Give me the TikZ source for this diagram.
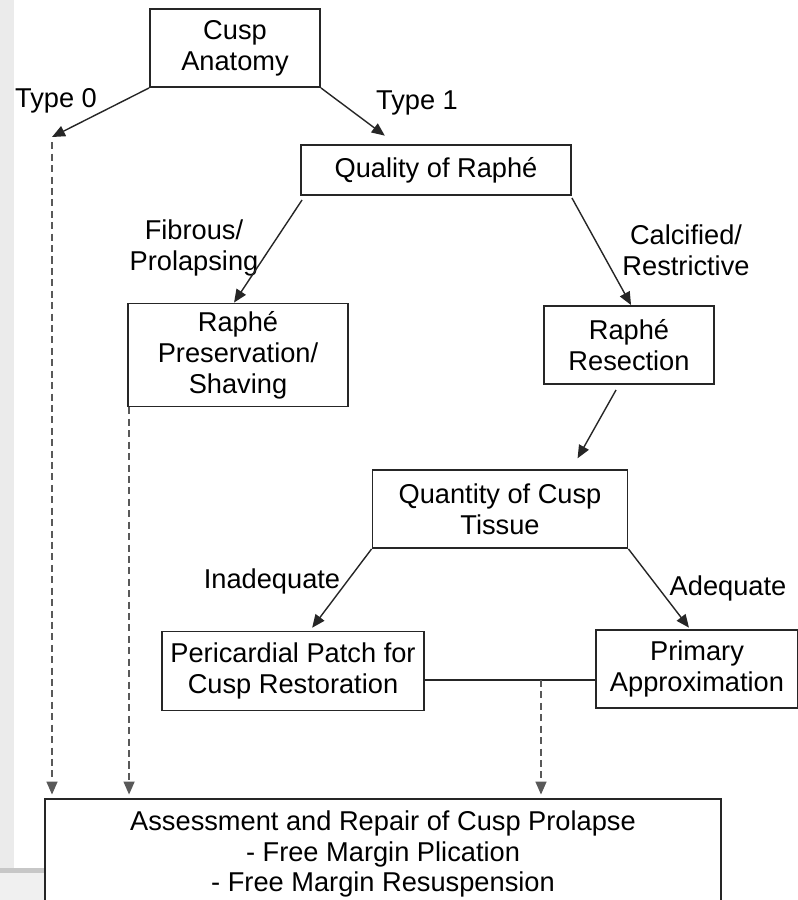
\documentclass[tikz,border=0pt]{standalone}
\usepackage{fontspec}
\setmainfont{Liberation Sans}
\usepackage{tikz}
\usepackage[dvipsnames]{xcolor}
\usetikzlibrary{arrows.meta,calc}
\colorlet{BoxLine}{black!85}
\colorlet{DashGray}{black!65}
\colorlet{EdgeGray}{black!8}

\tikzset{
    box/.style={draw=BoxLine, line width=1.1pt, align=center, inner sep=2pt,
                font=\fontsize{15.5}{17.6}\selectfont},
    lbl/.style={align=center, inner sep=0pt, font=\fontsize{15.5}{17.6}\selectfont},
    arr/.style={black!85, line width=0.8pt, -{Triangle[length=2.6mm,width=2.2mm]}},
    darr/.style={DashGray, line width=0.9pt, dash pattern=on 4pt off 2.5pt,
                 -{Triangle[length=2.6mm,width=2.2mm]}}
}

\begin{document}
\begin{tikzpicture}[x=0.02cm, y=-0.02cm]
                    \useasboundingbox (0,0) rectangle (798,900);
%                    screen edge
                    \fill[EdgeGray] (0,0) rectangle (14,868);
                    \fill[black!22] (0,868) rectangle (45,873);
                    \fill[black!6] (0,873) rectangle (45,900);

%                    boxes
                    \node[box, minimum width=3.4cm, minimum height=1.56cm] (anat) at (235,48) {Cusp\\Anatomy};
                    \node[box, minimum width=5.4cm, minimum height=1.0cm] (qual) at (436,170) {Quality of Raph\'e};
                    \node[box, minimum width=4.4cm, minimum height=2.06cm] (pres) at (238,355) {Raph\'e\\Preservation/\\Shaving};
                    \node[box, minimum width=3.4cm, minimum height=1.56cm] (resec) at (629,345) {Raph\'e\\Resection};
                    \node[box, minimum width=5.1cm, minimum height=1.56cm] (quant) at (500,509) {Quantity of Cusp\\Tissue};
                    \node[box, minimum width=5.24cm, minimum height=1.58cm] (peri) at (293,671) {Pericardial Patch for\\Cusp Restoration};
                    \node[box, minimum width=4.04cm, minimum height=1.56cm] (prim) at (697,669) {Primary\\Approximation};
                    \node[box, minimum width=13.52cm, minimum height=2.2cm] (assess) at (383,854) {Assessment and Repair of Cusp Prolapse\\- Free Margin Plication\\- Free Margin Resuspension};

%                    labels
                    \node[lbl] (type0) at (56,101) {Type 0};
                    \node[lbl] (type1) at (417,103) {Type 1};
                    \node[lbl] (fibr) at (194,248) {Fibrous/\\Prolapsing};
                    \node[lbl] (calc) at (686,250) {Calcified/\\Restrictive};
                    \node[lbl] (inad) at (272,581) {Inadequate};
                    \node[lbl] (adeq) at (728,588) {Adequate};

                    \coordinate (t0) at (52,137);
                    \coordinate (merge) at (541,680);
                    \coordinate (pd) at ($(pres.south west)+(2,0)$);

%                    solid arrows
                    \draw[arr] (anat.south west) -- (t0);
                    \draw[arr, shorten >=8] (anat.south east) -- ($(qual.north west)+(96,0)$);
                    \draw[arr] ($(qual.south west)+(2,4)$) -- ($(pres.north west)+(107,0)$);
                    \draw[arr] ($(qual.south east)+(0,2)$) -- ($(resec.north west)+(88,0)$);
                    \draw[arr, shorten >=7] ($(resec.south west)+(73,5)$) -- ($(quant.north west)+(200,0)$);
                    \draw[arr, shorten >=2] (quant.south west) -- ($(peri.north west)+(149,0)$);
                    \draw[arr, shorten >=1] (quant.south east) -- ($(prim.north west)+(95,0)$);
                    \draw[black!85, line width=0.8pt] (peri.east |- merge) -- (prim.west |- merge);

%                    dashed arrows
                    \draw[darr, shorten <=3, shorten >=2] (t0) -- (t0 |- assess.north);
                    \draw[darr, shorten >=2] (pd) -- (pd |- assess.north);
                    \draw[darr, shorten >=2] (merge) -- (merge |- assess.north);

                \end{tikzpicture}
\end{document}
